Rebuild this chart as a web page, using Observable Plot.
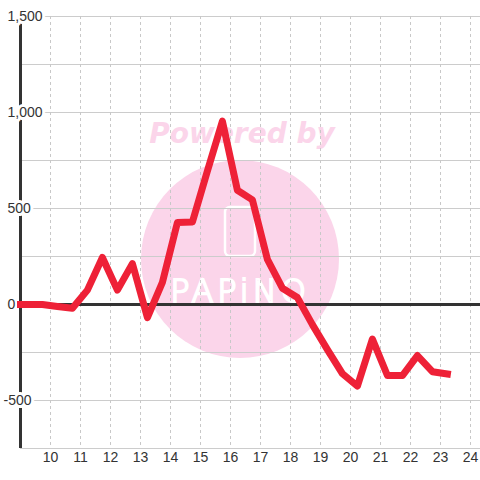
<!DOCTYPE html>
<html>
<head>
<meta charset="utf-8">
<script src="https://cdn.jsdelivr.net/npm/d3@7"></script>
<script src="https://cdn.jsdelivr.net/npm/@observablehq/plot@0.6"></script>
<style>
  html, body { margin: 0; padding: 0; background: #ffffff; }
  #wrap { position: relative; width: 480px; height: 480px; }
  #wm, #chart { position: absolute; left: 0; top: 0; }
</style>
</head>
<body>
<div id="wrap">
  <svg id="wm" width="480" height="480">
    <circle cx="240" cy="259" r="99" fill="#fbd5ea"></circle>
    <text x="242" y="143" text-anchor="middle" font-family="DejaVu Sans" font-weight="bold" font-style="italic" font-size="28" fill="#fbd5ea">Powered by</text>
    <rect x="225" y="207" width="30" height="49" rx="5" fill="none" stroke="#ffffff" stroke-width="2.5"></rect>
    <text x="240" y="302" text-anchor="middle" font-family="DejaVu Sans" font-weight="200" font-size="32" letter-spacing="4" fill="none" stroke="#ffffff" stroke-width="2">PAPiNO</text>
  </svg>
  <div id="chart"></div>
</div>
<script>
// Data
const times = [9.0, 9.73, 10.23, 10.73, 11.23, 11.73, 12.23, 12.73, 13.23, 13.73, 14.23, 14.73, 15.23, 15.73, 16.23, 16.73, 17.23, 17.73, 18.23, 18.73, 19.23, 19.73, 20.23, 20.73, 21.23, 21.73, 22.23, 22.73, 23.23];
const values = [0, 0, -10, -20, 75, 245, 75, 213, -68, 115, 427, 430, 695, 955, 595, 545, 235, 85, 36, -105, -235, -360, -425, -180, -370, -370, -266, -350, -362];
const xTicks = [10, 11, 12, 13, 14, 15, 16, 17, 18, 19, 20, 21, 22, 23, 24];
const yTicks = [-500, 0, 500, 1000, 1500];
const yGrid = [-750, -500, -250, 250, 500, 750, 1000, 1250, 1500];
const yLabels = ["-500", "0", "500", "1,000", "1,500"];

const data = times.map((t, i) => ({t, v: values[i]}));
const labelData = yTicks.map((v, i) => ({v, label: yLabels[i]}));
const labelStyle = {
  y: "v", text: "label", frameAnchor: "left", textAnchor: "start",
  fontSize: 14, fill: "#333333", stroke: "#ffffff", strokeWidth: 6, strokeLinejoin: "round"
};

const chart = Plot.plot({
  width: 480,
  height: 480,
  marginLeft: 20,
  marginRight: 0,
  marginTop: 16,
  marginBottom: 32,
  style: {background: "transparent", fontFamily: "'Liberation Sans', Arial, sans-serif"},
  x: {domain: [9, 24.3333], axis: null},
  y: {domain: [-750, 1500], axis: null},
  marks: [
    Plot.ruleY(yGrid, {stroke: "#cccccc", strokeWidth: 1}),
    Plot.ruleX(xTicks, {stroke: "#c8c8c8", strokeWidth: 1, strokeDasharray: "3,3"}),
    Plot.ruleX([9], {stroke: "#333333", strokeWidth: 3}),
    Plot.ruleY([0], {stroke: "#333333", strokeWidth: 3}),
    Plot.text(labelData.filter(d => d.v >= 0), {...labelStyle, dx: -13}),
    Plot.text(labelData.filter(d => d.v < 0), {...labelStyle, dx: -17}),
    Plot.text(xTicks, {x: d => d, frameAnchor: "bottom", dy: 13, text: d => String(d), fontSize: 14, fill: "#333333"}),
    Plot.line(data, {x: "t", y: "v", stroke: "#ee2137", strokeWidth: 7, strokeLinejoin: "round", strokeLinecap: "square"})
  ]
});
document.getElementById("chart").appendChild(chart);
</script>
</body>
</html>
